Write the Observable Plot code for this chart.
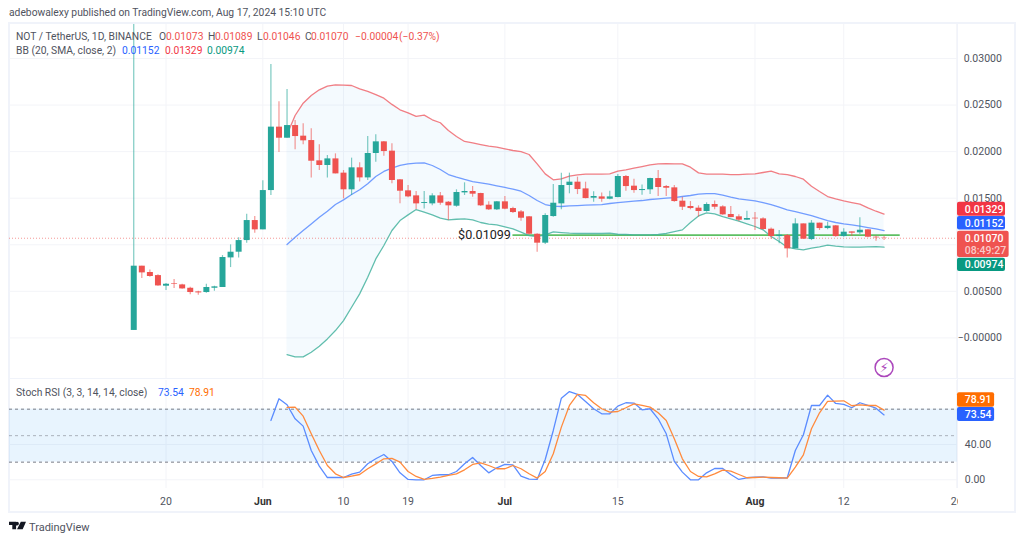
<!DOCTYPE html>
<html>
<head>
<meta charset="utf-8">
<script src="https://cdn.jsdelivr.net/npm/d3@7"></script>
<script src="https://cdn.jsdelivr.net/npm/@observablehq/plot@0.6"></script>
<style>
html,body{margin:0;padding:0;background:#fff;width:1024px;height:543px;overflow:hidden}
#page{position:relative;width:1024px;height:543px;font-family:Roboto,sans-serif;color:#50535e}
#page>svg,#page>div{position:absolute}
.t{position:absolute;white-space:pre;font-size:10.3px;line-height:12px}
</style>
</head>
<body>
<div id="page"></div>
<script>
// ---- Daily candles from 16 May 2024 ----
const open=[.0008,.0077,.00702,.00669,.00555,.0058,.00569,.00533,.00494,.00487,.00533,.00541,.00859,.0092,.01045,.0126,.0116,.01582,.02263,.02144,.0228,.02166,.02119,.01901,.01851,.01922,.01769,.0159,.01826,.01718,.0198,.02105,.02005,.01697,.01579,.01525,.01443,.01439,.01525,.01457,.01414,.01557,.01572,.0155,.01425,.01375,.01461,.01389,.01353,.013,.01113,.01017,.01303,.01439,.01636,.01672,.016,.015,.01514,.01489,.01507,.01733,.01629,.01582,.0159,.01711,.01625,.01611,.01468,.01411,.01393,.01357,.01432,.01407,.01325,.013,.01264,.01285,.01278,.01167,.01088,.01099,.00956,.01224,.01056,.01232,.01174,.01203,.01088,.01138,.01128,.0116,.01081,.01073];
const high=[.0337,.0077,.0073,.00677,.00584,.00627,.00576,.00544,.00501,.00576,.00555,.00884,.00999,.01074,.01328,.01303,.01686,.02936,.02535,.02667,.02334,.02298,.02245,.02073,.01958,.01976,.01797,.0193,.0188,.02162,.0218,.02109,.02084,.017,.01636,.01572,.01572,.01547,.01561,.01464,.0159,.01665,.01625,.01553,.01461,.01465,.01518,.01403,.01368,.01303,.01117,.01332,.01647,.01769,.01769,.01726,.01672,.01568,.01557,.01575,.01754,.01743,.01704,.01643,.01715,.01797,.01636,.01636,.01511,.01464,.01418,.0145,.01471,.01418,.01411,.01321,.0136,.01346,.01289,.01181,.01153,.0111,.01278,.01224,.0126,.01232,.01242,.01206,.01171,.01138,.01289,.0116,.01095,.01089];
const low=[.0008,.00637,.00652,.00555,.00508,.0053,.00523,.00462,.00458,.0048,.00501,.00541,.00755,.00859,.01017,.01124,.0116,.01529,.0199,.02144,.02019,.02073,.01718,.01797,.01718,.01761,.01493,.01529,.01675,.0169,.01887,.01951,.01654,.01439,.01504,.01378,.01385,.01418,.01425,.0126,.01403,.01529,.01511,.01411,.01368,.01368,.01375,.01335,.01253,.01106,.0092,.01002,.01296,.01375,.01547,.01539,.01493,.01457,.01457,.01482,.01504,.01575,.01554,.01532,.01539,.01518,.01518,.01457,.01368,.01375,.01296,.0135,.01375,.01317,.01289,.01246,.0126,.01153,.01156,.0106,.0101,.00859,.00956,.01056,.01045,.01153,.0116,.01081,.01081,.01088,.0111,.01074,.01038,.01046];
const close=[.0077,.00698,.00659,.00558,.00576,.00573,.00526,.00487,.00483,.00541,.00548,.00863,.0092,.01045,.0126,.0116,.01582,.02263,.02144,.0228,.02162,.02116,.01897,.01851,.01922,.01761,.0159,.01826,.01718,.0198,.02105,.02001,.0169,.01575,.01514,.01439,.01453,.01525,.01446,.01418,.01561,.01572,.01543,.01418,.01375,.01461,.01382,.01346,.01285,.01113,.01017,.01314,.01446,.01636,.01672,.01593,.01496,.01518,.01489,.01514,.01733,.01625,.01582,.01593,.01711,.01615,.01607,.01464,.01403,.01389,.01357,.01432,.01403,.01321,.01292,.01264,.01282,.01278,.01164,.01088,.01103,.00956,.01224,.0106,.01232,.01174,.01199,.01088,.01135,.01124,.01156,.01081,.01074,.0107];
// ---- Bollinger Bands, first value on candle 19 ----
const bbStart=19;
const bbUpper=[.02184,.02388,.0252,.02603,.02664,.02703,.02717,.02714,.0271,.02674,.02646,.02613,.02574,.02507,.02449,.02417,.02378,.02392,.02342,.0231,.02227,.02163,.02109,.02094,.02076,.02059,.02048,.0203,.02012,.02001,.01969,.01869,.01761,.01697,.01708,.01736,.01751,.01758,.01758,.01758,.01761,.0179,.01804,.01822,.0184,.01858,.01869,.01872,.01869,.01869,.01833,.01772,.01758,.01758,.01758,.01754,.01754,.01758,.01761,.01776,.0179,.01761,.01754,.01733,.01704,.01629,.01572,.01518,.01493,.01471,.01453,.01436,.01396,.0136,.01329];
const bbMid=[.01002,.01081,.01153,.01224,.01296,.0136,.01432,.01482,.01539,.0159,.01654,.01733,.01787,.01823,.01852,.01869,.01876,.0188,.01851,.01808,.01754,.01726,.01701,.01679,.01665,.0165,.01632,.01615,.01597,.01575,.01529,.01475,.01432,.01414,.01411,.01418,.01421,.01425,.01428,.01432,.01443,.01453,.01461,.01468,.01475,.01486,.01493,.015,.01507,.01518,.01529,.01543,.0155,.0155,.01532,.01511,.01493,.01482,.01471,.01453,.01432,.01403,.01375,.01357,.01335,.01314,.01285,.0126,.01239,.01224,.01214,.01199,.01185,.01171,.01152];
const bbLower=[-.00179,-.00204,-.00204,-.00154,-.0009,-.00011,.00079,.00186,.00329,.00473,.00652,.00848,.00992,.01153,.0126,.01321,.01378,.0135,.01321,.01285,.01267,.01274,.01278,.01267,.01239,.01221,.01214,.01192,.01171,.01135,.01099,.01088,.01106,.01138,.01131,.01124,.01121,.01121,.01121,.01121,.01124,.01113,.0111,.01106,.01106,.01106,.0111,.01121,.01142,.0116,.01239,.0131,.01343,.01332,.01303,.01278,.01253,.01224,.01196,.0116,.01088,.01035,.00974,.00956,.00945,.00963,.00977,.00995,.00985,.00977,.00974,.00974,.00977,.00981,.00974];
// ---- Stochastic RSI ----
const kStart=17;
const stochK=[67.2,91.8,85,69.1,60.8,33.2,15.5,2.6,2.6,2.6,6.4,8.7,18.1,23.8,28.7,20.8,7.9,.4,0,0,4.9,5.7,5.7,9.4,18.1,25.3,16.2,7.9,13.6,17.4,17,4.2,.8,.4,23,55.9,92.5,100,96.7,88.8,80.5,74.8,74.8,83.5,87.3,86.9,79.3,80.5,69.1,52.1,20.8,8.7,0,0,7.9,12.8,12.8,6,.4,2.3,3,3.4,1.9,1.9,2.3,33.2,51,84.2,84.2,95.9,86.5,85.4,81.6,87.3,84.2,81.2,73.54];
const dStart=19;
const stochD=[82,82.3,72.1,52.1,33.2,16.2,6.8,2.6,4.2,6,12.5,18.1,23.8,24.2,20,9.4,3.8,.4,1.5,3,4.9,6.8,11.3,17.4,19.3,16.2,12.5,12.5,16.2,12.5,6.8,1.9,9.4,29.5,59.7,84.2,96.7,95.6,87.3,80.5,76.7,77.4,81.6,86.1,84.2,82.3,75.9,67.2,46.5,23.8,9.4,3.8,3.4,6.8,11,9.8,6,2.3,2.6,3,2.6,2.3,1.9,14.4,28.3,57.8,75.9,88.8,89.1,89.5,83.9,85,84.2,84.2,78.91];
// ---- Axes ----
const priceTicks=[0,.005,.01,.015,.02,.025,.03];
const priceTickLabels=["\u22120.00000","0.00500","","0.01500","0.02000","0.02500","0.03000"];
const stochGrid=[0,40];
const stochTickLabels=["0.00","40.00"];
const stochBands=[20,50,80];
const stochBandOpacity=[1,.55,1];
const dayTicks=[4,26,34,60,88];
const dayLabels=["20","10","19","15","12"];
const monthTicks=[16,46,77];
const monthLabels=["Jun","Jul","Aug"];
const lastGridDay=102;
const lastGridLabel="26";
// ---- Annotations ----
const lastPrice=.0107;
const priceLine=.01103;
const priceLineLabel="$0.01099";
const priceLineFrom=47, priceLineTo=95;
// ---- Right-hand price tags ----
const tagText=["0.01329","0.01152","0.00974"];
const tagFill=["#f23645","#2962ff","#089981"];
const tagTop=[.01457,.01304,.00856];
const tagBottom=[.01307,.01158,.00713];
const lastTagText=["0.01070","08:49:27"];
const lastTagPrice=[.0107,.00938];
const lastTagOpacity=[1,.7];
const lastTagTop=.01146, lastTagBottom=.00863;
const stochTagText=["78.91","73.54"];
const stochTagFill=["#ff6d00","#2962ff"];
const stochTagTop=[98.6,81.9];
const stochTagBottom=[82.3,66];

const green="#26a69a",red="#ef5350",blue="#5b8cff",orange="#ff8a3d",gridC="#f3f4f8",axisC="#50535e";
const day=n=>new Date(Date.UTC(2024,4,16)+n*864e5);
const xDomain=[day(-15.4),day(102.1)];
const tagLeft=day(102.1);
const font="Roboto, sans-serif";
const tickFont=10.5;
const candles=open.map((o,i)=>({d:day(i),o,h:high[i],l:low[i],c:close[i],col:close[i]>=o?green:red}));
const bands=bbUpper.map((u,i)=>({d:day(bbStart+i),u,m:bbMid[i],l:bbLower[i]}));
const kPts=stochK.map((v,i)=>({d:day(kStart+i),v}));
const dPts=stochD.map((v,i)=>({d:day(dStart+i),v}));
const gridDays=[...dayTicks,...monthTicks,lastGridDay].map(day);

const main=Plot.plot({
  width:1024,height:380,marginLeft:9,marginRight:67,marginTop:24,marginBottom:2,
  style:{background:"transparent",fontFamily:font,overflow:"visible"},
  x:{type:"utc",domain:xDomain,axis:null},
  y:{domain:[-.00436,.03365],axis:null},
  marks:[
    Plot.ruleX(gridDays,{x:d=>d,stroke:gridC}),
    Plot.ruleY(priceTicks,{y:d=>d,x1:xDomain[0],x2:tagLeft,stroke:gridC}),
    Plot.areaY(bands,{x:"d",y1:"l",y2:"u",fill:"#2196f3",fillOpacity:.05,curve:"linear"}),
    Plot.ruleY([lastPrice],{x1:xDomain[0],x2:tagLeft,stroke:red,strokeOpacity:.6,strokeDasharray:"1,2"}),
    Plot.ruleY([priceLine],{x1:day(priceLineFrom),x2:day(priceLineTo),stroke:"#5fbf63",strokeWidth:1.8}),
    Plot.lineY(bands,{x:"d",y:"u",stroke:"#f0676f",strokeWidth:1.3,strokeOpacity:.85}),
    Plot.lineY(bands,{x:"d",y:"m",stroke:blue,strokeWidth:1.3,strokeOpacity:.85}),
    Plot.lineY(bands,{x:"d",y:"l",stroke:"#45b3a0",strokeWidth:1.3,strokeOpacity:.85}),
    Plot.ruleX(candles,{x:"d",y1:"l",y2:"h",stroke:"col",strokeWidth:1.2,strokeOpacity:.6,clip:true}),
    Plot.ruleX(candles,{x:"d",y1:"o",y2:"c",stroke:"col",strokeWidth:6}),
    Plot.text([priceLineLabel],{x:day(priceLineFrom),y:priceLine,text:d=>d,textAnchor:"end",dx:-2,dy:0,fontSize:12.6,fill:"#222",fontWeight:400,stroke:"#fff",strokeWidth:2,paintOrder:"stroke"}),
    Plot.dot([0],{x:day(93),y:-.00318,r:9,stroke:"#ab47bc",strokeWidth:1.5,fill:"#fff"}),
    Plot.text(["\u26A1"],{x:day(93),y:-.00318,text:d=>d,fill:"#ab47bc",fontSize:13,fontFamily:"DejaVu Sans"}),
    Plot.text(priceTicks,{x:day(107.6),y:d=>d,text:(d,i)=>priceTickLabels[i],textAnchor:"end",fontSize:tickFont,fill:axisC}),
    Plot.rect(tagText,{x1:tagLeft,x2:day(108.05),y1:(d,i)=>tagTop[i],y2:(d,i)=>tagBottom[i],fill:(d,i)=>tagFill[i],rx:2}),
    Plot.rect([0],{x1:tagLeft,x2:day(108.5),y1:lastTagTop,y2:lastTagBottom,fill:"#ef5350",rx:2}),
    Plot.text(tagText,{x:day(103),y:(d,i)=>(tagTop[i]+tagBottom[i])/2,text:d=>d,textAnchor:"start",fill:"#fff",fontSize:tickFont,fontWeight:500}),
    Plot.text(lastTagText,{x:day(103),y:(d,i)=>lastTagPrice[i],text:d=>d,textAnchor:"start",fill:"#fff",fillOpacity:(d,i)=>lastTagOpacity[i],fontSize:tickFont,fontWeight:500})
  ]
});
main.style.left="0";main.style.top="0";

const stoch=Plot.plot({
  width:1024,height:135,marginLeft:9,marginRight:67,marginTop:2,marginBottom:25,
  style:{background:"transparent",fontFamily:font,overflow:"visible"},
  x:{type:"utc",domain:xDomain,axis:null},
  y:{domain:[-9.86,112.5],axis:null},
  marks:[
    Plot.ruleX(gridDays,{x:d=>d,stroke:gridC}),
    Plot.ruleY(stochGrid,{y:d=>d,x1:xDomain[0],x2:tagLeft,stroke:gridC}),
    Plot.rect([0],{x1:xDomain[0],x2:tagLeft,y1:20,y2:80,fill:"#2196f3",fillOpacity:.1}),
    Plot.ruleY(stochBands,{y:d=>d,x1:xDomain[0],x2:tagLeft,stroke:"#787b86",strokeDasharray:"3,3",strokeOpacity:(d,i)=>stochBandOpacity[i]}),
    Plot.lineY(kPts,{x:"d",y:"v",stroke:blue,strokeWidth:1.3}),
    Plot.lineY(dPts,{x:"d",y:"v",stroke:orange,strokeWidth:1.3}),
    Plot.text(stochGrid,{x:day(103),y:d=>d,text:(d,i)=>stochTickLabels[i],textAnchor:"start",fontSize:tickFont,fill:axisC}),
    Plot.rect(stochTagText,{x1:tagLeft,x2:day(106.7),y1:(d,i)=>stochTagTop[i],y2:(d,i)=>stochTagBottom[i],fill:(d,i)=>stochTagFill[i],rx:2}),
    Plot.text(stochTagText,{x:day(103),y:(d,i)=>(stochTagTop[i]+stochTagBottom[i])/2,text:d=>d,textAnchor:"start",fill:"#fff",fontSize:tickFont,fontWeight:500}),
    Plot.axisX({ticks:dayTicks.map(day),tickFormat:(d,i)=>dayLabels[i],tickSize:0,tickPadding:9,fontSize:tickFont,fill:axisC,label:null}),
    Plot.axisX({ticks:monthTicks.map(day),tickFormat:(d,i)=>monthLabels[i],tickSize:0,tickPadding:9,fontSize:tickFont,fontWeight:700,fill:"#333",label:null}),
    Plot.axisX({ticks:[day(lastGridDay)],tickFormat:()=>lastGridLabel,tickSize:0,tickPadding:9,fontSize:tickFont,fill:axisC,label:null})
  ]
});
stoch.style.left="0";stoch.style.top="378px";

const page=document.getElementById("page");
function box(l,t,w,h,bg){const e=document.createElement("div");e.style.cssText=`position:absolute;left:${l}px;top:${t}px;width:${w}px;height:${h}px;background:${bg}`;page.appendChild(e);}
function txt(l,t,s,c){const e=document.createElement("div");e.className="t";e.style.left=l+"px";e.style.top=t+"px";e.textContent=s;if(c)e.style.color=c;page.appendChild(e);return e;}
const borderC="#f0f3fa";
box(8,22,1008,2,borderC);box(8,511,1008,2,borderC);box(8,22,2,491,borderC);box(1014,22,2,491,borderC);
box(10,377.5,1004,1.6,borderC);box(956.5,24,1,464,borderC);
page.appendChild(main);page.appendChild(stoch);
box(958,492,20,18,"#fff");

txt(9,7,"adebowalexy published on TradingView.com, Aug 17, 2024 15:10 UTC");
txt(16,31,"NOT / TetherUS, 1D, BINANCE");
const ohlc=[[159,"O"],[166,"0.01073",red],[208,"H"],[215,"0.01089",red],[257,"L"],[263,"0.01046",red],[305,"C"],[311,"0.01070",red],[355,"\u22120.00004",red],[399,"(\u22120.37%)",red]];
ohlc.forEach(([x,s,c])=>txt(x,31,s,c));
txt(16,45,"BB (20, SMA, close, 2)");
[[122,"0.01152","#2962ff"],[165,"0.01329","#f23645"],[207,"0.00974","#089981"]].forEach(([x,s,c])=>txt(x,45,s,c));
txt(16,387,"Stoch RSI (3, 3, 14, 14, close)");
txt(158,387,"73.54","#2962ff");txt(189,387,"78.91","#ff6d00");
const logo=new DOMParser().parseFromString('<svg xmlns="http://www.w3.org/2000/svg" width="17" height="9" viewBox="0 0 36 18"><path fill="#131722" d="M0 1h15v16H7V8H0zM17 1a4 4 0 1 1 0 8a4 4 0 0 1 0-8zM25 1h11l-7 16H17z"/></svg>',"image/svg+xml").documentElement;
logo.style.cssText="position:absolute;left:9px;top:521px";page.appendChild(logo);
const tv=txt(29,520.5,"TradingView","#50535e");tv.style.fontSize="11px";tv.style.lineHeight="14px";
</script>
</body>
</html>
